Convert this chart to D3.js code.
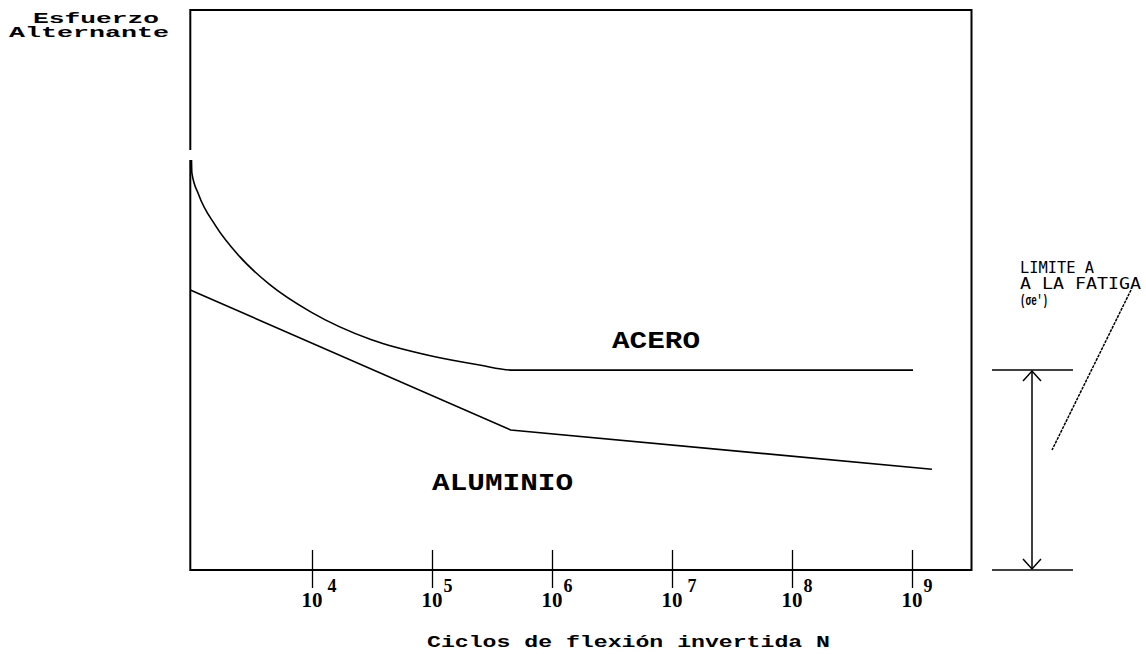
<!DOCTYPE html>
<html><head><meta charset="utf-8">
<script src="https://cdn.jsdelivr.net/npm/d3@7"></script>
<style>html,body{margin:0;padding:0;background:#fff;}svg{display:block;}</style>
</head><body>
<svg id="c" width="1146" height="654"></svg>
<script>
// ---- data ----
const tickExponents = [4, 5, 6, 7, 8, 9];
const tickBase = "10";
const aceroLogN = [3.0, 3.003, 3.06, 3.2, 3.4, 3.65, 4.0, 4.5, 5.0, 5.4, 5.68, 9.0125];
const aceroS    = [73.2, 70.9, 67.0, 61.5, 56.0, 51.0, 46.0, 41.1, 38.2, 36.6, 35.7, 35.7];
const aluminioLogN = [2.99, 5.66, 9.17];
const aluminioS    = [50.0, 25.0, 18.0];
const enduranceS = 35.7;
const seriesLabels = ["ACERO", "ALUMINIO"];
const yLabel = ["Esfuerzo", "Alternante"];
const xLabel = "Ciclos de flexión invertida N";
const annotLabel = ["LIMITE A", "A LA FATIGA"];
const annotSymbol = "(σe')";

// ---- scales ----
const x = d3.scaleLinear().domain([3, 9]).range([191.5, 911.5]);
const y = d3.scaleLinear().domain([0, 100]).range([570, 10]);
const svg = d3.select("#c");
const ink = "#000";

// frame
const xl = x(2.99), xr = x(9.5), yt = y(100), yb = y(0);
svg.append("path").attr("fill","none").attr("stroke",ink).attr("stroke-width",2)
  .attr("d", `M${xl},${y(75)}V${yt}H${xr}V${yb}H${xl}V${y(73.2)}`);

// ticks
const tg = svg.append("g");
tickExponents.forEach(e => {
  const tx = Math.round(x(e)) + 0.5;
  tg.append("line").attr("x1",tx).attr("x2",tx).attr("y1",yb-20).attr("y2",yb+18)
    .attr("stroke",ink).attr("stroke-width",1.3);
  const t = tg.append("text").attr("x",tx-11).attr("y",yb+37)
    .attr("font-family","Liberation Serif").attr("font-weight","bold").attr("font-size",22).attr("fill",ink);
  t.append("tspan").text(tickBase).attr("textLength",21).attr("lengthAdjust","spacingAndGlyphs");
  t.append("tspan").text(e).attr("dx", e===4||e===7 ? 5 : 1).attr("dy",-15).attr("font-size",18);
});

// curves
const line = d3.line().x(d => x(d[0])).y(d => y(d[1])).curve(d3.curveMonotoneX);
svg.append("path").datum(aceroLogN.map((v,i)=>[v, aceroS[i]]))
  .attr("fill","none").attr("stroke",ink).attr("stroke-width",1.6).attr("d", line);
const line2 = d3.line().x(d => x(d[0])).y(d => y(d[1]));
svg.append("path").datum(aluminioLogN.map((v,i)=>[v, aluminioS[i]]))
  .attr("fill","none").attr("stroke",ink).attr("stroke-width",1.6).attr("d", line2);

// series labels
svg.append("text").text(seriesLabels[0]).attr("x",612).attr("y",348)
  .attr("font-family","Liberation Mono").attr("font-weight","bold").attr("font-size",24).attr("fill",ink)
  .attr("textLength",88).attr("lengthAdjust","spacingAndGlyphs");
svg.append("text").text(seriesLabels[1]).attr("x",432).attr("y",490)
  .attr("font-family","Liberation Mono").attr("font-weight","bold").attr("font-size",24).attr("fill",ink)
  .attr("textLength",141).attr("lengthAdjust","spacingAndGlyphs");

// y label
svg.append("text").text(yLabel[0]).attr("x",33).attr("y",23)
  .attr("font-family","Liberation Mono").attr("font-weight","bold").attr("font-size",14).attr("fill",ink)
  .attr("textLength",126).attr("lengthAdjust","spacingAndGlyphs");
svg.append("text").text(yLabel[1]).attr("x",9).attr("y",37)
  .attr("font-family","Liberation Mono").attr("font-weight","bold").attr("font-size",14).attr("fill",ink)
  .attr("textLength",160).attr("lengthAdjust","spacingAndGlyphs");

// x label
svg.append("text").text(xLabel).attr("x",427).attr("y",647)
  .attr("font-family","Liberation Mono").attr("font-weight","bold").attr("font-size",16).attr("fill",ink)
  .attr("textLength",403).attr("lengthAdjust","spacingAndGlyphs");

// endurance-limit annotation
const ay1 = y(enduranceS), ay0 = y(0), ax = 1032;
const ag = svg.append("g").attr("stroke",ink).attr("fill","none").attr("stroke-width",1.5);
ag.append("line").attr("x1",992).attr("x2",1073).attr("y1",ay1).attr("y2",ay1);
ag.append("line").attr("x1",992).attr("x2",1073).attr("y1",ay0).attr("y2",ay0);
ag.append("line").attr("x1",ax).attr("x2",ax).attr("y1",ay1+1).attr("y2",ay0-1);
ag.append("path").attr("d",`M${ax-9},${ay1+11}L${ax},${ay1+1}L${ax+9},${ay1+11}`);
ag.append("path").attr("d",`M${ax-9},${ay0-11}L${ax},${ay0-1}L${ax+9},${ay0-11}`);
ag.append("line").attr("x1",1131).attr("y1",290).attr("x2",1052).attr("y2",450)
  .attr("stroke-dasharray","3,1").attr("stroke-width",1.5);

svg.append("text").text(annotLabel[0]).attr("x",1020).attr("y",273)
  .attr("font-family","DejaVu Sans Mono").attr("font-size",15).attr("fill",ink)
  .attr("textLength",74).attr("lengthAdjust","spacingAndGlyphs");
svg.append("text").text(annotLabel[1]).attr("x",1020).attr("y",289)
  .attr("font-family","DejaVu Sans Mono").attr("font-size",15).attr("fill",ink)
  .attr("textLength",121).attr("lengthAdjust","spacingAndGlyphs");
svg.append("text").text(annotSymbol).attr("x",1020).attr("y",305)
  .attr("font-family","Liberation Mono").attr("font-weight","bold").attr("font-size",15).attr("fill",ink)
  .attr("textLength",28).attr("lengthAdjust","spacingAndGlyphs");
</script>
</body></html>
